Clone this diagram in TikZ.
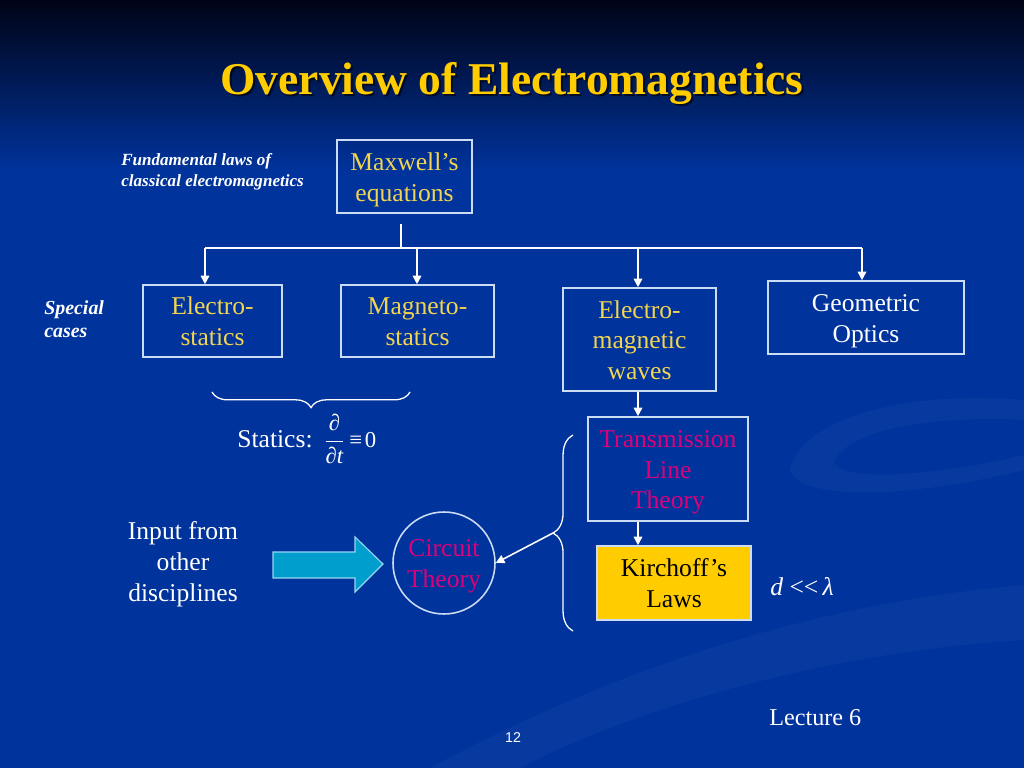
\documentclass[tikz,border=0pt]{standalone}
\usepackage{fontspec}
\setmainfont{Liberation Serif}
\newfontfamily\sansf{Liberation Sans}
\usetikzlibrary{arrows.meta,decorations.pathreplacing,calc}
\newcommand\pxu{0.703125pt}
\newcommand\bt[1]{\raisebox{-2.2pt}[\height][\depth]{\begin{tabular}{@{}c@{}}#1\end{tabular}}}
\definecolor{bgblue}{RGB}{0,51,155}
\definecolor{topdark}{RGB}{0,3,22}
\definecolor{titleyellow}{RGB}{255,204,0}
\definecolor{boxyellow}{RGB}{242,212,80}
\definecolor{magentatext}{RGB}{222,0,122}
\definecolor{border}{RGB}{205,220,245}
\definecolor{cyanfill}{RGB}{0,158,205}
\definecolor{cyanborder}{RGB}{150,215,240}
\definecolor{kirfill}{RGB}{255,204,0}
\begin{document}
\begin{tikzpicture}[x=0.703125pt,y=-0.703125pt,
  box/.style 2 args={draw=border, line width=1.1pt, rectangle, inner sep=0pt,
    minimum width=#1*\pxu, minimum height=#2*\pxu,
    font=\fontsize{18}{21.6}\selectfont},
  conn/.style={draw=white, line width=1.1pt},
  arr/.style={conn, -{Triangle[length=6pt,width=6pt]}},
  bracestyle/.style={draw=white, line width=0.9pt, decorate},
  plaintext/.style={text=white, align=center, inner sep=0pt, font=\fontsize{18}{21.6}\selectfont}
]
\useasboundingbox (0,0) rectangle (1024,768);
\fill[bgblue] (0,0) rectangle (1024,768);
\shade[top color=topdark, bottom color=bgblue] (0,0) rectangle (1024,170);
% faint background swooshes
\fill[white, opacity=0.03] (430,768) .. controls (650,650) and (850,600) .. (1024,585)
  -- (1024,640) .. controls (850,650) and (650,700) .. (520,768) -- cycle;
\fill[white, opacity=0.03] (1024,400) .. controls (900,390) and (800,420) .. (790,470)
  .. controls (800,500) and (900,500) .. (1024,470) -- (1024,455)
  .. controls (920,480) and (830,480) .. (835,460) .. controls (850,430) and (930,415) .. (1024,420) -- cycle;

% title
\node[text=black, opacity=0.6, font=\fontsize{32}{38}\selectfont\bfseries] (titleshadow) at (514,86) {Overview of Electromagnetics};
\node[text=titleyellow, font=\fontsize{32}{38}\selectfont\bfseries] (title) at (512,84) {Overview of Electromagnetics};

% side labels
\node[text=white, anchor=west, align=left, inner sep=0pt, font=\fontsize{12}{14.8}\selectfont\bfseries\itshape] (fund) at (121,171.5) {Fundamental laws of\\classical electromagnetics};
\node[text=white, anchor=west, align=left, inner sep=0pt, font=\fontsize{14}{16.2}\selectfont\bfseries\itshape] (special) at (44,319.5) {Special\\cases};

% boxes
\node[box={135}{73}, text=boxyellow] (max) at (404.5,176.5) {\bt{Maxwell's\\equations}};
\node[box={139}{72}, text=boxyellow] (es) at (212.5,321) {\bt{Electro-\\statics}};
\node[box={153}{72}, text=boxyellow] (ms) at (417.5,321) {\bt{Magneto-\\statics}};
\node[box={153}{103}, text=boxyellow] (emw) at (639.5,339.5) {\bt{Electro-\\magnetic\\waves}};
\node[box={196}{73}, text=white] (geo) at (866,317.5) {\bt{Geometric\\Optics}};
\node[box={160}{104}, text=magentatext] (tl) at (668,469) {\bt{Transmission\\Line\\Theory}};
\node[box={154}{74}, text=black, fill=kirfill] (kl) at (674,583) {\bt{Kirchoff's\\Laws}};
\node[draw=border, line width=1.1pt, circle, minimum size=102*\pxu, inner sep=0pt,
  text=magentatext, font=\fontsize{18}{21.6}\selectfont] (ct) at (444,563) {\bt{Circuit\\Theory}};

% tree connectors
\coordinate (t0) at (401,224);
\coordinate (b1) at (205,248);
\coordinate (b2) at (417,248);
\coordinate (b3) at (638,248);
\coordinate (b4) at (862,248);
\draw[conn] (t0) -- (t0 |- b1);
\draw[conn] (b1) -- (b4);
\draw[arr] (b1) -- (b1 |- es.north);
\draw[arr] (b2) -- (b2 |- ms.north);
\draw[arr] (b3) -- (b3 |- emw.north);
\draw[arr] (b4) -- (b4 |- geo.north);
\draw[arr] (b3 |- emw.south) -- (b3 |- tl.north);
\draw[arr] (b3 |- tl.south) -- (b3 |- kl.north);

% statics brace
\coordinate (sb1) at (410,392);
\coordinate (sb2) at (212,392);
\draw[bracestyle, decoration={brace, amplitude=11pt}] (sb1) -- (sb2);
\node[plaintext, anchor=base west] (statics) at (237,447) {Statics:\hspace{8pt}$\displaystyle\frac{\mbox{\fontsize{16}{19}\selectfont ∂}}{\mbox{\fontsize{16}{19}\selectfont ∂\itshape t}}$\mbox{\fontsize{16}{19}\selectfont\hspace{3pt}≡\hspace{2pt}0}};

% left brace
\coordinate (lb1) at (573,631);
\coordinate (lb2) at (573,435);
\coordinate (ltip) at (553,533);
\draw[bracestyle, decoration={brace, amplitude=14pt}] (lb1) -- (lb2);
\draw[arr] (ltip) -- (ct.east);

% block arrow
\draw[fill=cyanfill, draw=cyanborder, line width=0.8pt] (273,552) -- (355,552) -- (355,537) -- (383,564) -- (355,592) -- (355,578) -- (273,578) -- cycle;
\node[plaintext] (input) at (183,564) {Input from\\other\\disciplines};

% d << lambda
\node[plaintext, anchor=west] (dll) at (770,587) {\textit{d} <{}<\,\textit{λ}};

% footer
\node[text=white, anchor=west, inner sep=0pt, font=\fontsize{17}{20}\selectfont] (lecture) at (769,718) {Lecture 6};
\node[text=white, inner sep=0pt, font=\sansf\fontsize{10}{12}\selectfont] (pagenum) at (513,738) {12};
\end{tikzpicture}
\end{document}
